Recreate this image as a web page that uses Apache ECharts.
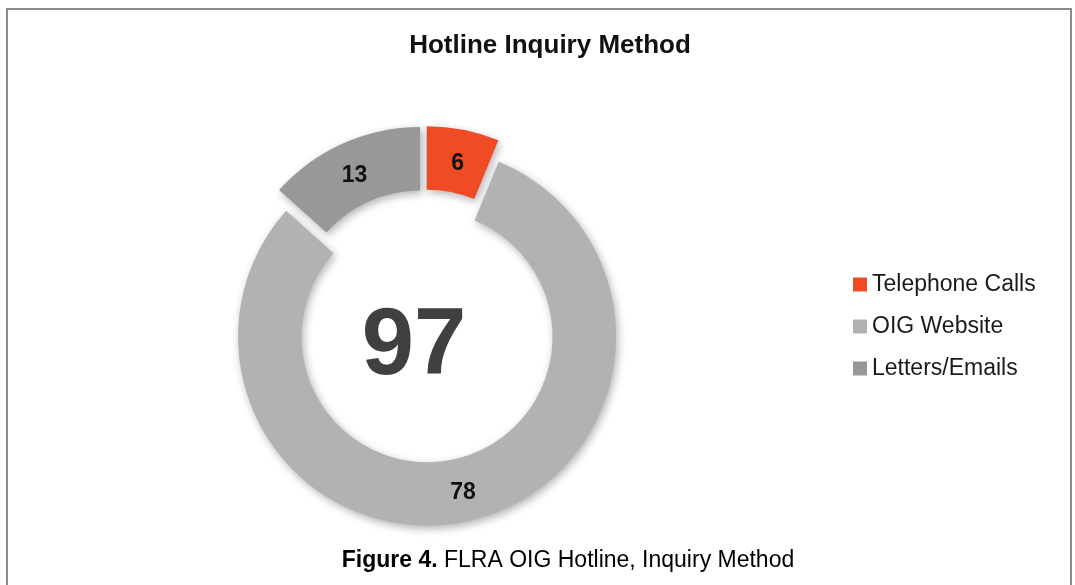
<!DOCTYPE html>
<html>
<head>
<meta charset="utf-8">
<script src="https://cdn.jsdelivr.net/npm/echarts@6/dist/echarts.min.js"></script>
<style>
html,body{margin:0;padding:0;background:#fff;}
#chart{width:1075px;height:585px;}
</style>
</head>
<body>
<div id="chart"></div>
<script>
var categories = ['Telephone Calls', 'OIG Website', 'Letters/Emails'];
var values = [6, 78, 13];
var colors = ['#F04B24', '#B2B2B2', '#989898'];
var titleText = 'Hotline Inquiry Method';
var captionBold = 'Figure 4.';
var captionRest = ' FLRA OIG Hotline, Inquiry Method';

var total = values.reduce(function (a, b) { return a + b; }, 0);
var FONT = 'Liberation Sans, Arial, Helvetica, sans-serif';

var chart = echarts.init(document.getElementById('chart'));
chart.setOption({
  animation: false,
  backgroundColor: '#ffffff',
  legend: {
    orient: 'vertical',
    left: 848,
    top: 268,
    icon: 'rect',
    itemWidth: 14,
    itemHeight: 14,
    itemGap: 19,
    selectedMode: false,
    textStyle: { fontFamily: FONT, fontSize: 23, color: '#1a1a1a' },
    data: categories
  },
  series: [{
    type: 'pie',
    center: [424.6, 326],
    radius: [125.5, 189],
    startAngle: 90,
    clockwise: true,
    selectedMode: 'multiple',
    selectedOffset: 11,
    silent: true,
    emphasis: { disabled: true },
    itemStyle: {
      shadowBlur: 8,
      shadowColor: 'rgba(0,0,0,0.3)',
      shadowOffsetX: 2,
      shadowOffsetY: 3
    },
    select: { itemStyle: { borderWidth: 0 } },
    label: {
      show: true,
      position: 'inside',
      formatter: '{c}',
      fontFamily: FONT,
      fontSize: 23,
      fontWeight: 'bold',
      color: '#111111'
    },
    labelLayout: function (params) {
      return params.dataIndex === 1 ? {} : { dy: 6 };
    },
    labelLine: { show: false },
    data: categories.map(function (c, i) {
      return {
        name: c,
        value: values[i],
        selected: true,
        itemStyle: { color: colors[i] },
        select: { itemStyle: { color: colors[i] } }
      };
    })
  }],
  graphic: [
    {
      type: 'rect',
      shape: { x: 7, y: 9, width: 1064, height: 620 },
      style: { fill: 'none', stroke: '#8c8c8c', lineWidth: 2 },
      silent: true
    },
    {
      type: 'text',
      x: 550, y: 45.7,
      style: {
        text: titleText,
        font: 'bold 26px ' + FONT,
        fill: '#111111',
        textAlign: 'center',
        textVerticalAlign: 'middle'
      }
    },
    {
      type: 'text',
      x: 414, y: 348,
      style: {
        text: String(total),
        font: 'bold 94px ' + FONT,
        fill: '#404040',
        textAlign: 'center',
        textVerticalAlign: 'middle'
      }
    },
    {
      type: 'text',
      x: 568, y: 560.4,
      style: {
        text: '{b|' + captionBold + '}{r|' + captionRest + '}',
        textAlign: 'center',
        textVerticalAlign: 'middle',
        rich: {
          b: { fontFamily: FONT, fontSize: 23, fontWeight: 'bold', color: '#111111' },
          r: { fontFamily: FONT, fontSize: 23, color: '#111111' }
        }
      }
    }
  ]
});
</script>
</body>
</html>
